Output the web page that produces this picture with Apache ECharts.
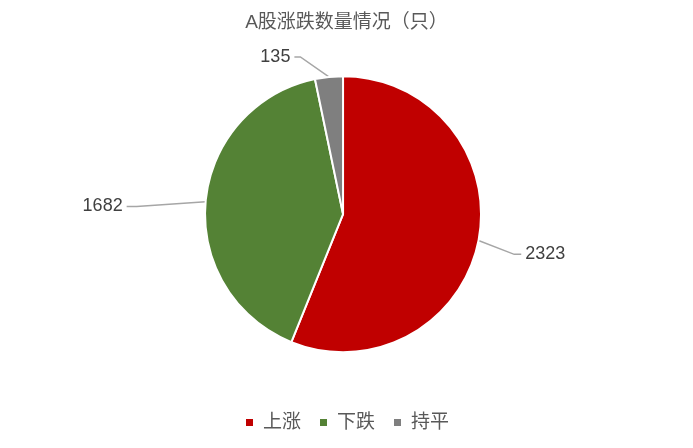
<!DOCTYPE html>
<html>
<head>
<meta charset="utf-8">
<script src="https://cdn.jsdelivr.net/npm/echarts@6/dist/echarts.min.js"></script>
<style>
  html, body { margin: 0; padding: 0; background: #fff; }
  #chart { width: 693px; height: 448px; }
</style>
</head>
<body>
<div id="chart"></div>
<script>
// 数据
var categories = ['上涨', '下跌', '持平']
var counts = [2323, 1682, 135]
var colors = ['#C00000', '#548235', '#7F7F7F']

// label nudges relative to default pie label spot, and short horizontal leg
var labelNudge = [[16, 11], [-49, 6], [-22, -5]]
var legLen = [7, 10, 6]

var font = '"Liberation Sans", "Noto Sans CJK SC", sans-serif'

var chart = echarts.init(document.getElementById('chart'))

var data = categories.map(function (name, i) {
    return {
        name: name,
        value: counts[i],
        itemStyle: { color: colors[i] },
        labelLine: { length: 15, length2: legLen[i] }
    }
})

var option = {
    animation: false,
    title: {
        text: 'A股涨跌数量情况（只）',
        left: 'center',
        top: 8,
        textStyle: {
            fontFamily: font,
            fontSize: 19,
            fontWeight: 'normal',
            color: '#595959',
            lineHeight: 20
        }
    },
    legend: {
        data: categories,
        bottom: 11,
        left: 'center',
        icon: 'rect',
        itemWidth: 9,
        itemHeight: 9,
        itemGap: 17,
        textStyle: {
            fontFamily: font,
            fontSize: 19,
            color: '#595959',
            padding: [0, 0, 0, 4]
        }
    },
    series: [{
        type: 'pie',
        center: ['49.5%', '47.8%'],
        radius: 138,
        startAngle: 90,
        clockwise: true,
        data: data,
        itemStyle: {
            borderColor: '#fff',
            borderWidth: 2
        },
        label: {
            show: true,
            position: 'outside',
            formatter: '{c}',
            fontFamily: font,
            fontSize: 18,
            lineHeight: 18,
            color: '#404040',
            padding: [0, 4]
        },
        labelLine: {
            show: true,
            smooth: false,
            lineStyle: { color: '#A6A6A6', width: 1.5 }
        },
        labelLayout: function (params) {
            var r = params.labelRect
            var n = labelNudge[params.dataIndex]
            return {
                x: r.x + n[0],
                y: r.y + n[1],
                align: 'left',
                verticalAlign: 'top'
            }
        },
        emphasis: { disabled: true }
    }]
}

chart.setOption(option)
</script>
</body>
</html>
